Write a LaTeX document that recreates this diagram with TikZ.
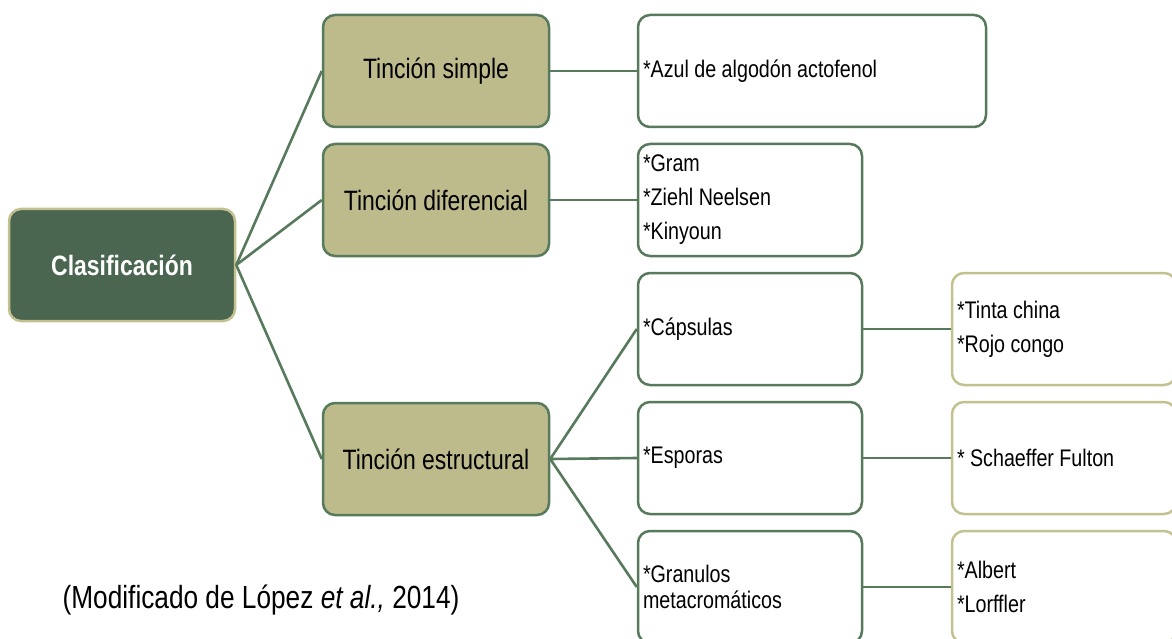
\documentclass[tikz,border=0pt]{standalone}
\usepackage{fontspec}
\setmainfont{Liberation Sans}[FakeStretch=0.82]
\definecolor{rootgreen}{HTML}{4B6650}
\definecolor{edgegreen}{HTML}{587A5C}
\definecolor{tanfill}{HTML}{BDBB8B}
\definecolor{tanline}{HTML}{C4C191}
\tikzset{
  box/.style={rounded corners=12pt, line width=2.5pt, minimum height=112pt, inner sep=0pt},
  root/.style={box, draw=tanline, fill=rootgreen, minimum width=226pt, text=white,
    font=\bfseries\fontsize{28}{32}\selectfont},
  cat/.style={box, draw=edgegreen, fill=tanfill, minimum width=226pt,
    font=\fontsize{28}{32}\selectfont},
  leaf/.style={box, draw=edgegreen, fill=white, minimum width=#1pt, text width=#1pt-10pt,
    inner xsep=5pt, align=left, font=\fontsize{24}{26}\selectfont,
    execute at begin node={\spaceskip=0pt\xspaceskip=0pt}},
  leaf/.default=224,
  sub/.style={leaf, draw=tanline},
  link/.style={draw=edgegreen, line width=2.6pt},
}
\begin{document}
\begin{tikzpicture}[x=1pt, y=-1pt]
  \useasboundingbox (0,0) rectangle (1172,639);
  \clip (0,0) rectangle (1172,639);

  % root and first level
  \node[root] (clas) at (122,265) {Clasificación};
  \node[cat] (simple) at (436,71) {Tinción simple};
  \node[cat] (dif) at (436,200) {Tinción diferencial};
  \node[cat] (est) at (436,459) {Tinción estructural};

  % stains
  \node[leaf=348] (azul) at (812,71) {*Azul de algodón actofenol};
  \node[leaf] (gram) at (750,200) {*Gram\\[8pt]*Ziehl Neelsen\\[8pt]*Kinyoun};
  \node[leaf] (cap) at (750,329) {*Cápsulas};
  \node[leaf] (esp) at (750,458) {*Esporas};
  \node[leaf] (gran) at (750,587) {*Granulos\\metacromáticos};

  % structural stains
  \node[sub] (tinta) at (1064,329) {*Tinta china\\[8pt]*Rojo congo};
  \node[sub] (scha) at (1064,458) {* Schaeffer Fulton};
  \node[sub] (alb) at (1064,587) {*Albert\\[8pt]*Lorffler};

  % connectors
  \draw[link] (clas.east) -- (simple.west);
  \draw[link] (clas.east) -- (dif.west);
  \draw[link] (clas.east) -- (est.west);
  \draw[link] (simple.east) -- (azul.west);
  \draw[link] (dif.east) -- (gram.west);
  \draw[link] (est.east) -- (cap.west);
  \draw[link] (est.east) -- (esp.west);
  \draw[link] (est.east) -- (gran.west);
  \draw[link] (cap.east) -- (tinta.west);
  \draw[link] (esp.east) -- (scha.west);
  \draw[link] (gran.east) -- (alb.west);

  \node[font=\fontsize{32}{35}\selectfont] (cite) at (261,600)
    {(Modificado de López \textit{et al.,} 2014)};
\end{tikzpicture}
\end{document}
